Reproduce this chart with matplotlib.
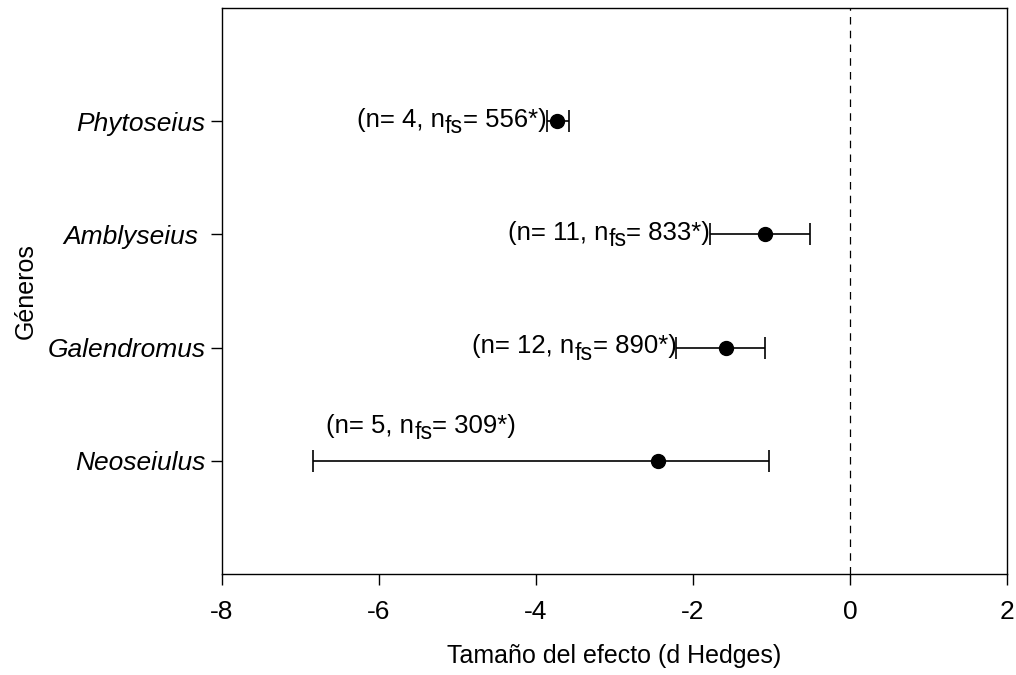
import matplotlib
matplotlib.use("Agg")
import matplotlib.pyplot as plt

# ------------------------------------------------------------- Dane
generos = ["Neoseiulus", "Galendromus", "Amblyseius ", "Phytoseius"]
efecto = [-2.44, -1.58, -1.08, -3.73]
ic_inf = [-6.84, -2.21, -1.78, -3.86]
ic_sup = [-1.03, -1.08, -0.51, -3.58]
n_estudios = [5, 12, 11, 4]
n_fs = [309, 890, 833, 556]

# ------------------------------------------------------------- Estilo
plt.rcParams['font.family'] = ['Liberation Sans', 'DejaVu Sans']
plt.rcParams['axes.unicode_minus'] = False
plt.rcParams['font.size'] = 18

DPI = 100
fig = plt.figure(figsize=(10.16, 6.75), dpi=DPI)
ax = fig.add_axes([0.2185, 0.1496, 0.7725, 0.8385])

y = list(range(1, len(generos) + 1))
err_inf = [e - lo for e, lo in zip(efecto, ic_inf)]
err_sup = [hi - e for e, hi in zip(efecto, ic_sup)]

ax.errorbar(efecto, y, xerr=[err_inf, err_sup], fmt='o', color='black',
            ecolor='black', elinewidth=1.2, capsize=8, capthick=1.2,
            markersize=10)

ax.axvline(0, color='black', linestyle=(0, (6, 5)), linewidth=0.9)

ax.set_xlim(-8, 2)
ax.set_ylim(0, 5)
ax.set_xticks([-8, -6, -4, -2, 0, 2])
ax.set_yticks(y)
ax.set_yticklabels(generos, fontstyle='italic')
ax.tick_params(direction='out', length=8, width=1, labelsize=19)
ax.tick_params(axis='y', pad=4)
ax.tick_params(axis='x', pad=11)

for s in ax.spines.values():
    s.set_linewidth(1)

ax.set_xlabel("Tamaño del efecto (d Hedges)", fontsize=18, labelpad=14)
ax.set_ylabel("Géneros", fontsize=18)
ax.yaxis.set_label_coords(-0.235, 0.5)

# ------------------------------------------------------------- Etiquetas con subindice
renderer = fig.canvas.get_renderer()
FS = 18.5


def etiqueta(x, yb, partes, ha):
    # partes: (texto, tamaño, desplazamiento vertical en pt)
    textos = []
    for t, size, dy in partes:
        textos.append(ax.annotate(t, xy=(x, yb), xycoords='data', xytext=(0, dy),
                                  textcoords='offset points', ha='left',
                                  va='baseline', fontsize=size))
    anchos = [tx.get_window_extent(renderer).width * 72 / DPI for tx in textos]
    total = sum(anchos)
    dx = -total if ha == 'right' else 0
    for tx, w, (t, size, dy) in zip(textos, anchos, partes):
        tx.set_position((dx, dy))
        dx += w


for yi, lo, n, nf in zip(y, ic_inf, n_estudios, n_fs):
    partes = [("(n= %d, n" % n, FS, 0), ("fs", FS * 0.9, -4.5), ("= %d*)" % nf, FS, 0)]
    if yi == 1:
        etiqueta(-6.67, yi + 0.25, partes, 'left')
    else:
        etiqueta(lo, yi - 0.05, partes, 'right')

fig.savefig("out.png", dpi=DPI)
